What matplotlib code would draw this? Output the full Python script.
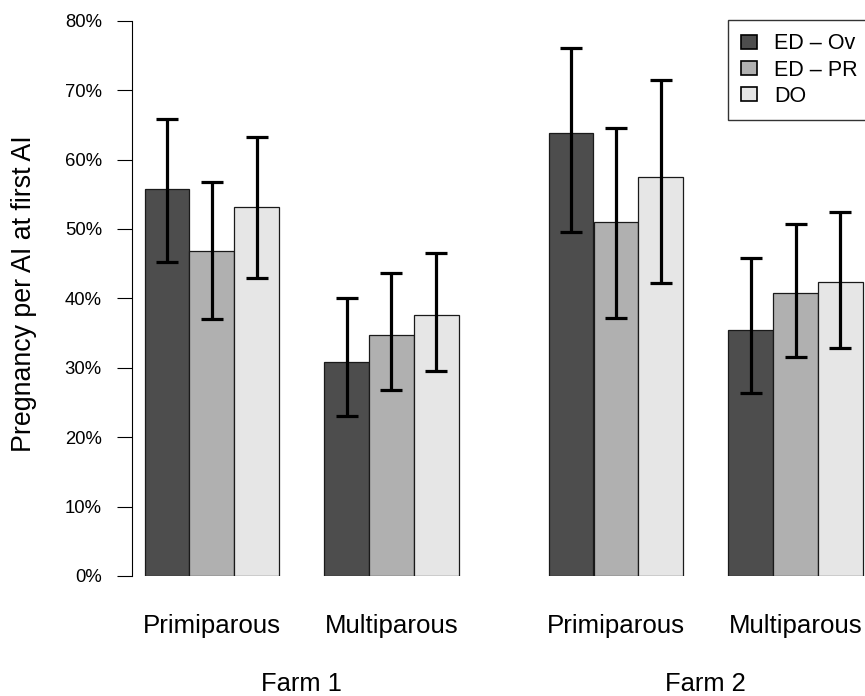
import numpy as np
import matplotlib
matplotlib.use("Agg")
import matplotlib.pyplot as plt
from matplotlib.patches import Patch
from matplotlib import transforms

plt.rcParams['font.family'] = ['Liberation Sans', 'DejaVu Sans']

# data (fractions)
groups = ["Primiparous", "Multiparous", "Primiparous", "Multiparous"]
farms = ["Farm 1", "Farm 2"]
# legend labels as far as the (cropped) picture shows them
series = ["ED \u2013 Ov", "ED \u2013 PR", "DO"]
colors = ["#4d4d4d", "#b0b0b0", "#e6e6e6"]

ed_ov = [0.558, 0.308, 0.638, 0.355]
ed_ov_lo = [0.453, 0.230, 0.495, 0.264]
ed_ov_hi = [0.658, 0.400, 0.760, 0.458]

ed_pr = [0.468, 0.347, 0.510, 0.408]
ed_pr_lo = [0.370, 0.268, 0.372, 0.316]
ed_pr_hi = [0.568, 0.436, 0.646, 0.507]

do = [0.532, 0.376, 0.575, 0.423]
do_lo = [0.430, 0.296, 0.422, 0.328]
do_hi = [0.632, 0.465, 0.714, 0.525]

values = [ed_ov, ed_pr, do]
lows = [ed_ov_lo, ed_pr_lo, do_lo]
highs = [ed_ov_hi, ed_pr_hi, do_hi]

W, H = 865, 696
fig = plt.figure(figsize=(W / 100, H / 100), dpi=100)

# axes placed in pixels, running past the right edge like the original crop
unit = 44.9
ax_left, ax_right = 131.7, 1000
ax_bot, ax_top = 120, 675.3
ax = fig.add_axes([ax_left / W, ax_bot / H, (ax_right - ax_left) / W, (ax_top - ax_bot) / H])
x0 = -(144.5 - ax_left) / unit
ax.set_xlim(x0, x0 + (ax_right - ax_left) / unit)
ax.set_ylim(0, 0.8)

group_start = np.array([0, 4, 9, 13])

for i, (vals, lo, hi) in enumerate(zip(values, lows, highs)):
    xs = group_start + i
    vals = np.array(vals)
    ax.bar(xs, vals, width=1, align='edge', color=colors[i],
           edgecolor='#1a1a1a', linewidth=0.9, label=series[i], zorder=2)
    yerr = [vals - np.array(lo), np.array(hi) - vals]
    ax.errorbar(xs + 0.5, vals, yerr=yerr, fmt='none', ecolor='black',
                elinewidth=2.3, capsize=7.6, capthick=2.3, zorder=3)

for s in ['top', 'right', 'bottom']:
    ax.spines[s].set_visible(False)
ax.spines['left'].set_bounds(0, 0.8)
ax.spines['left'].set_linewidth(0.8)
ax.set_xticks([])
yt = np.arange(0, 0.81, 0.1)
ax.set_yticks(yt)
ax.set_yticklabels(["{:d}%".format(int(round(v * 100))) for v in yt], fontsize=13.3)
ax.tick_params(axis='y', length=10.5, width=0.8, pad=11)

# category labels below groups
trans = transforms.blended_transform_factory(ax.transData, fig.transFigure)
for g, name in zip(group_start, groups):
    ax.text(g + 1.5, 1 - 633 / H, name, transform=trans, ha='center',
            va='baseline', fontsize=18.6)
for k, farm in enumerate(farms):
    cx = (group_start[2 * k] + group_start[2 * k + 1] + 3) / 2
    ax.text(cx, 1 - 691 / H, farm, transform=trans, ha='center',
            va='baseline', fontsize=18.4)

fig.text(24 / W, 1 - 294 / H, "Pregnancy per AI at first AI", rotation=90,
         ha='center', va='center', fontsize=19.3)

handles = [Patch(facecolor=c, edgecolor='black', linewidth=1.2) for c in colors]
leg = ax.legend(handles, series, loc='upper left',
                bbox_to_anchor=(727.7 / W, 1 - 20 / H), bbox_transform=fig.transFigure,
                borderaxespad=0, fontsize=15.5, frameon=True, fancybox=False,
                handlelength=0.74, handleheight=0.6, handletextpad=0.8,
                borderpad=0.62, labelspacing=0.24)
leg.get_frame().set_edgecolor('black')
leg.get_frame().set_linewidth(1.0)

fig.savefig("out.png", dpi=100)
